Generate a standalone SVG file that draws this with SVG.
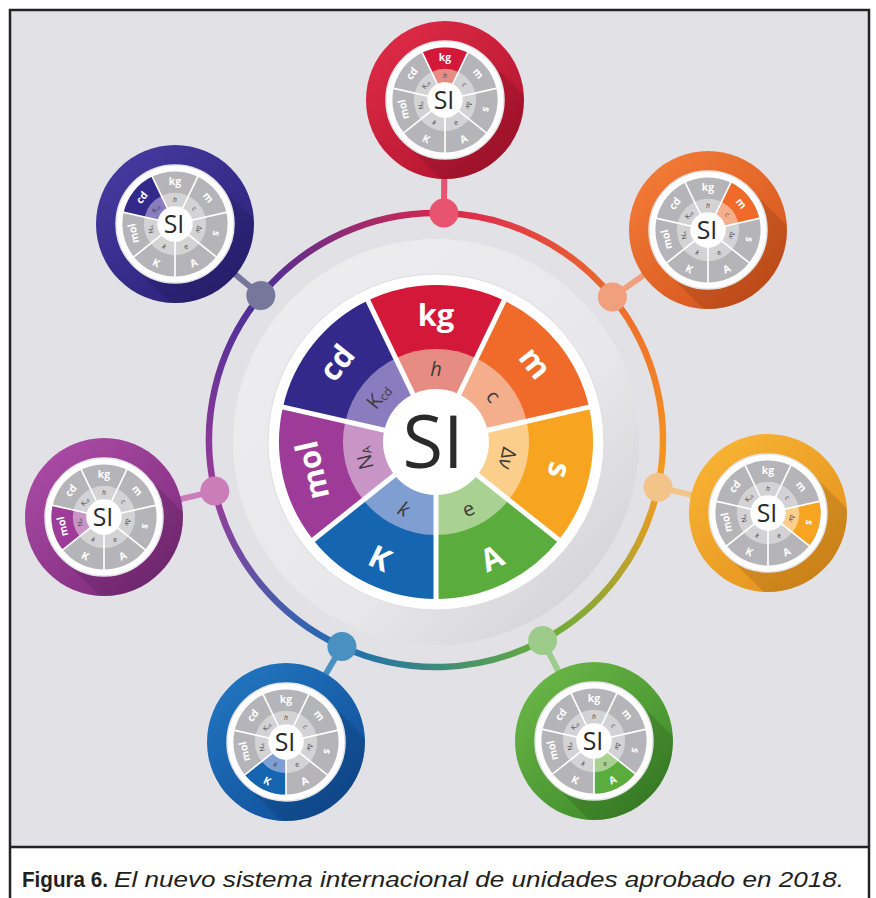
<svg xmlns="http://www.w3.org/2000/svg" width="876" height="898" viewBox="0 0 876 898">
<style>
  .bg{fill:#e2e2e6}
  .frame{fill:none;stroke:#232323;stroke-width:2.5}
  .lo{font-family:"Open Sans","Liberation Sans",sans-serif;font-weight:700;font-size:31px;fill:#fff;text-anchor:middle;dominant-baseline:central}
  .li{font-family:"Open Sans","Liberation Sans",sans-serif;font-size:20px;fill:#3b3b3b;text-anchor:middle;dominant-baseline:central}
  .si{font-family:"Open Sans","Liberation Sans",sans-serif;font-size:74px;fill:#2a2a2a;text-anchor:middle}
  .sep line{stroke:#fff;stroke-width:5}
  .arc{fill:none;stroke-width:6.5}
  .stem{stroke-width:6;fill:none}
  .gray{fill:#b5b5b9}
  .grayin{fill:#d3d3d6}
  .satw{fill:#fff;stroke:#e4e4e8;stroke-width:1.5}
  .lshadow{fill:#000;opacity:.11}
  .cap{font-family:"Liberation Sans",Arial,sans-serif;font-size:22px;fill:#231f20}
</style>
<defs>
  <!-- one wheel slice (kg position, pointing up); others are rotations -->
  <path id="segO" d="M0,0 L-68.12,-141.45 A157,157 0 0 1 68.12,-141.45 Z"/>
  <path id="segI" d="M0,0 L-40.35,-83.79 A93,93 0 0 1 40.35,-83.79 Z"/>
  <!-- separators, hub and labels shared by every wheel -->
  <g id="wheelTop">
    <g class="sep">
      <line x1="0" y1="0" x2="69.4" y2="-144.2"/>
      <line x1="0" y1="0" x2="156.0" y2="-35.6"/>
      <line x1="0" y1="0" x2="125.1" y2="99.8"/>
      <line x1="0" y1="0" x2="0" y2="160"/>
      <line x1="0" y1="0" x2="-125.1" y2="99.8"/>
      <line x1="0" y1="0" x2="-156.0" y2="-35.6"/>
      <line x1="0" y1="0" x2="-69.4" y2="-144.2"/>
    </g>
    <circle r="53" fill="#fff"/>
    <text class="lo" transform="translate(0,-128)">kg</text>
    <text class="lo" transform="rotate(51.43) translate(0,-128)">m</text>
    <text class="lo" transform="rotate(102.86) translate(0,-128)">s</text>
    <text class="lo" transform="rotate(154.29) translate(0,-128) rotate(180)">A</text>
    <text class="lo" transform="rotate(205.71) translate(0,-128) rotate(180)">K</text>
    <text class="lo" transform="rotate(257.14) translate(0,-128)">mol</text>
    <text class="lo" transform="rotate(308.57) translate(0,-128)">cd</text>
    <text class="li" font-style="italic" transform="translate(0,-74)">h</text>
    <text class="li" transform="rotate(51.43) translate(0,-74)">c</text>
    <text class="li" transform="rotate(102.86) translate(0,-74)">Δ<tspan font-style="italic">ν</tspan></text>
    <text class="li" transform="rotate(154.29) translate(0,-74) rotate(180)">e</text>
    <text class="li" font-style="italic" transform="rotate(205.71) translate(0,-74) rotate(180)">k</text>
    <text class="li" transform="rotate(257.14) translate(0,-74)">N<tspan font-size="12" dy="4">A</tspan></text>
    <text class="li" transform="rotate(308.57) translate(0,-74)">K<tspan font-size="12" dy="4">cd</tspan></text>
    <text class="si" x="-3" y="26">SI</text>
  </g>
  <!-- grey base of the small wheels -->
  <g id="miniBase">
    <circle r="157" class="gray"/>
    <circle r="93" class="grayin"/>
  </g>
  <path id="longShadow" d="M41.7,-41.7 L131.7,48.3 L48.3,131.7 L-41.7,41.7 Z"/>
  <clipPath id="satClip"><circle r="79"/></clipPath>

  <linearGradient id="halo" x1="0" y1="0" x2="1" y2="1">
    <stop offset="0" stop-color="#eeeef1"/>
    <stop offset="0.6" stop-color="#e8e8eb"/>
    <stop offset="0.85" stop-color="#d7d7db"/>
    <stop offset="1" stop-color="#cdcdd1"/>
  </linearGradient>

  <linearGradient id="gKg" x1="0.15" y1="0.1" x2="0.85" y2="0.95"><stop offset="0" stop-color="#dc2a45"/><stop offset="1" stop-color="#b0132d"/></linearGradient>
  <linearGradient id="gM" x1="0.15" y1="0.1" x2="0.85" y2="0.95"><stop offset="0" stop-color="#f27a36"/><stop offset="1" stop-color="#d2521b"/></linearGradient>
  <linearGradient id="gS" x1="0.15" y1="0.1" x2="0.85" y2="0.95"><stop offset="0" stop-color="#f7b233"/><stop offset="1" stop-color="#e3901b"/></linearGradient>
  <linearGradient id="gA" x1="0.15" y1="0.1" x2="0.85" y2="0.95"><stop offset="0" stop-color="#68b446"/><stop offset="1" stop-color="#3c8828"/></linearGradient>
  <linearGradient id="gK" x1="0.15" y1="0.1" x2="0.85" y2="0.95"><stop offset="0" stop-color="#2173bd"/><stop offset="1" stop-color="#0f4d98"/></linearGradient>
  <linearGradient id="gMol" x1="0.15" y1="0.1" x2="0.85" y2="0.95"><stop offset="0" stop-color="#a94aa4"/><stop offset="1" stop-color="#7c2a7a"/></linearGradient>
  <linearGradient id="gCd" x1="0.15" y1="0.1" x2="0.85" y2="0.95"><stop offset="0" stop-color="#45399e"/><stop offset="1" stop-color="#2b2077"/></linearGradient>

  <!-- ring colour runs between neighbouring joints -->
  <linearGradient id="r01" gradientUnits="userSpaceOnUse" x1="443.9" y1="213.1" x2="612.4" y2="297.1"><stop offset="0" stop-color="#d8274e"/><stop offset="1" stop-color="#ee6a2c"/></linearGradient>
  <linearGradient id="r12" gradientUnits="userSpaceOnUse" x1="612.4" y1="297.1" x2="658.0" y2="487.2"><stop offset="0" stop-color="#ee6a2c"/><stop offset="1" stop-color="#f59b22"/></linearGradient>
  <linearGradient id="r23" gradientUnits="userSpaceOnUse" x1="658.0" y1="487.2" x2="542.6" y2="640.4"><stop offset="0" stop-color="#f59b22"/><stop offset="1" stop-color="#66ad3b"/></linearGradient>
  <linearGradient id="r34" gradientUnits="userSpaceOnUse" x1="542.6" y1="640.4" x2="341.9" y2="646.6"><stop offset="0" stop-color="#66ad3b"/><stop offset="1" stop-color="#1d6cb4"/></linearGradient>
  <linearGradient id="r45" gradientUnits="userSpaceOnUse" x1="341.9" y1="646.6" x2="214.8" y2="491.1"><stop offset="0" stop-color="#1d6cb4"/><stop offset="1" stop-color="#9b3c98"/></linearGradient>
  <linearGradient id="r56" gradientUnits="userSpaceOnUse" x1="214.8" y1="491.1" x2="260.8" y2="295.6"><stop offset="0" stop-color="#9b3c98"/><stop offset="1" stop-color="#4a2f98"/></linearGradient>
  <linearGradient id="r60" gradientUnits="userSpaceOnUse" x1="260.8" y1="295.6" x2="443.9" y2="213.1"><stop offset="0" stop-color="#4a2f98"/><stop offset="1" stop-color="#d8274e"/></linearGradient>
</defs>

<!-- page -->
<rect x="0" y="0" width="876" height="898" fill="#fff"/>
<rect class="bg" x="10" y="10" width="859" height="837"/>

<!-- outer ring -->
<g id="ring">
  <path class="arc" stroke="url(#r01)" d="M443.9,213.1 A227,227 0 0 1 612.4,297.1"/>
  <path class="arc" stroke="url(#r12)" d="M612.4,297.1 A227,227 0 0 1 658.0,487.2"/>
  <path class="arc" stroke="url(#r23)" d="M658.0,487.2 A227,227 0 0 1 542.6,640.4"/>
  <path class="arc" stroke="url(#r34)" d="M542.6,640.4 A227,227 0 0 1 341.9,646.6"/>
  <path class="arc" stroke="url(#r45)" d="M341.9,646.6 A227,227 0 0 1 214.8,491.1"/>
  <path class="arc" stroke="url(#r56)" d="M214.8,491.1 A227,227 0 0 1 260.8,295.6"/>
  <path class="arc" stroke="url(#r60)" d="M260.8,295.6 A227,227 0 0 1 443.9,213.1"/>
</g>

<!-- connectors: stems and joints -->
<g id="connectors">
  <line class="stem" stroke="#e8536f" x1="443.9" y1="213.1" x2="445" y2="100"/>
  <line class="stem" stroke="#f0a07c" x1="612.4" y1="297.1" x2="708" y2="230"/>
  <line class="stem" stroke="#f2c48a" x1="658.0" y1="487.2" x2="768" y2="513"/>
  <line class="stem" stroke="#9ccb8a" x1="542.6" y1="640.4" x2="594" y2="741"/>
  <line class="stem" stroke="#4a90c0" x1="341.9" y1="646.6" x2="286" y2="742"/>
  <line class="stem" stroke="#cb7db9" x1="214.8" y1="491.1" x2="104" y2="517"/>
  <line class="stem" stroke="#76779a" x1="260.8" y1="295.6" x2="175" y2="224"/>
  <circle cx="443.9" cy="213.1" r="14.5" fill="#e8536f"/>
  <circle cx="612.4" cy="297.1" r="14.5" fill="#f0a07c"/>
  <circle cx="658.0" cy="487.2" r="14.5" fill="#f2c48a"/>
  <circle cx="542.6" cy="640.4" r="14.5" fill="#9ccb8a"/>
  <circle cx="341.9" cy="646.6" r="14.5" fill="#4a90c0"/>
  <circle cx="214.8" cy="491.1" r="14.5" fill="#cb7db9"/>
  <circle cx="260.8" cy="295.6" r="14.5" fill="#76779a"/>
</g>

<!-- central wheel -->
<g id="central" transform="translate(436,442)">
  <circle r="203" fill="url(#halo)"/>
  <circle r="168" fill="#fff" stroke="#dedee2" stroke-width="1"/>
  <use href="#segO" fill="#d4183a"/>
  <use href="#segO" transform="rotate(51.43)" fill="#f06a2a"/>
  <use href="#segO" transform="rotate(102.86)" fill="#f7a420"/>
  <use href="#segO" transform="rotate(154.29)" fill="#5aad3c"/>
  <use href="#segO" transform="rotate(205.71)" fill="#1565b0"/>
  <use href="#segO" transform="rotate(257.14)" fill="#9e3b98"/>
  <use href="#segO" transform="rotate(308.57)" fill="#33298b"/>
  <use href="#segI" fill="#e68c82"/>
  <use href="#segI" transform="rotate(51.43)" fill="#f4ae8c"/>
  <use href="#segI" transform="rotate(102.86)" fill="#fbce8c"/>
  <use href="#segI" transform="rotate(154.29)" fill="#a9d191"/>
  <use href="#segI" transform="rotate(205.71)" fill="#7f9ed2"/>
  <use href="#segI" transform="rotate(257.14)" fill="#c995c7"/>
  <use href="#segI" transform="rotate(308.57)" fill="#8a7dbf"/>
  <use href="#wheelTop"/>
</g>

<!-- satellites -->
<g id="sat-kg" transform="translate(445,100)">
  <circle r="79" fill="url(#gKg)"/>
  <use href="#longShadow" class="lshadow" clip-path="url(#satClip)"/>
  <circle r="59" class="satw"/>
  <g transform="scale(0.335)">
    <use href="#miniBase"/>
    <use href="#segO" fill="#d4183a"/>
    <use href="#segI" fill="#e68c82"/>
    <use href="#wheelTop"/>
  </g>
</g>
<g id="sat-m" transform="translate(708,230)">
  <circle r="79" fill="url(#gM)"/>
  <use href="#longShadow" class="lshadow" clip-path="url(#satClip)"/>
  <circle r="59" class="satw"/>
  <g transform="scale(0.335)">
    <use href="#miniBase"/>
    <use href="#segO" transform="rotate(51.43)" fill="#f06a2a"/>
    <use href="#segI" transform="rotate(51.43)" fill="#f4ae8c"/>
    <use href="#wheelTop"/>
  </g>
</g>
<g id="sat-s" transform="translate(768,513)">
  <circle r="79" fill="url(#gS)"/>
  <use href="#longShadow" class="lshadow" clip-path="url(#satClip)"/>
  <circle r="59" class="satw"/>
  <g transform="scale(0.335)">
    <use href="#miniBase"/>
    <use href="#segO" transform="rotate(102.86)" fill="#f7a420"/>
    <use href="#segI" transform="rotate(102.86)" fill="#fbce8c"/>
    <use href="#wheelTop"/>
  </g>
</g>
<g id="sat-A" transform="translate(594,741)">
  <circle r="79" fill="url(#gA)"/>
  <use href="#longShadow" class="lshadow" clip-path="url(#satClip)"/>
  <circle r="59" class="satw"/>
  <g transform="scale(0.335)">
    <use href="#miniBase"/>
    <use href="#segO" transform="rotate(154.29)" fill="#5aad3c"/>
    <use href="#segI" transform="rotate(154.29)" fill="#a9d191"/>
    <use href="#wheelTop"/>
  </g>
</g>
<g id="sat-K" transform="translate(286,742)">
  <circle r="79" fill="url(#gK)"/>
  <use href="#longShadow" class="lshadow" clip-path="url(#satClip)"/>
  <circle r="59" class="satw"/>
  <g transform="scale(0.335)">
    <use href="#miniBase"/>
    <use href="#segO" transform="rotate(205.71)" fill="#1565b0"/>
    <use href="#segI" transform="rotate(205.71)" fill="#7f9ed2"/>
    <use href="#wheelTop"/>
  </g>
</g>
<g id="sat-mol" transform="translate(104,517)">
  <circle r="79" fill="url(#gMol)"/>
  <use href="#longShadow" class="lshadow" clip-path="url(#satClip)"/>
  <circle r="59" class="satw"/>
  <g transform="scale(0.335)">
    <use href="#miniBase"/>
    <use href="#segO" transform="rotate(257.14)" fill="#9e3b98"/>
    <use href="#segI" transform="rotate(257.14)" fill="#c995c7"/>
    <use href="#wheelTop"/>
  </g>
</g>
<g id="sat-cd" transform="translate(175,224)">
  <circle r="79" fill="url(#gCd)"/>
  <use href="#longShadow" class="lshadow" clip-path="url(#satClip)"/>
  <circle r="59" class="satw"/>
  <g transform="scale(0.335)">
    <use href="#miniBase"/>
    <use href="#segO" transform="rotate(308.57)" fill="#33298b"/>
    <use href="#segI" transform="rotate(308.57)" fill="#8a7dbf"/>
    <use href="#wheelTop"/>
  </g>
</g>

<!-- caption -->
<text class="cap" x="22" y="887" font-weight="700" textLength="86" lengthAdjust="spacingAndGlyphs">Figura 6.</text>
<text class="cap" x="114" y="887" font-style="italic" textLength="730" lengthAdjust="spacingAndGlyphs">El nuevo sistema internacional de unidades aprobado en 2018.</text>

<!-- frame -->
<rect class="frame" x="10" y="10" width="859" height="900"/>
<line x1="10" y1="847" x2="869" y2="847" stroke="#232323" stroke-width="2.5"/>
</svg>
